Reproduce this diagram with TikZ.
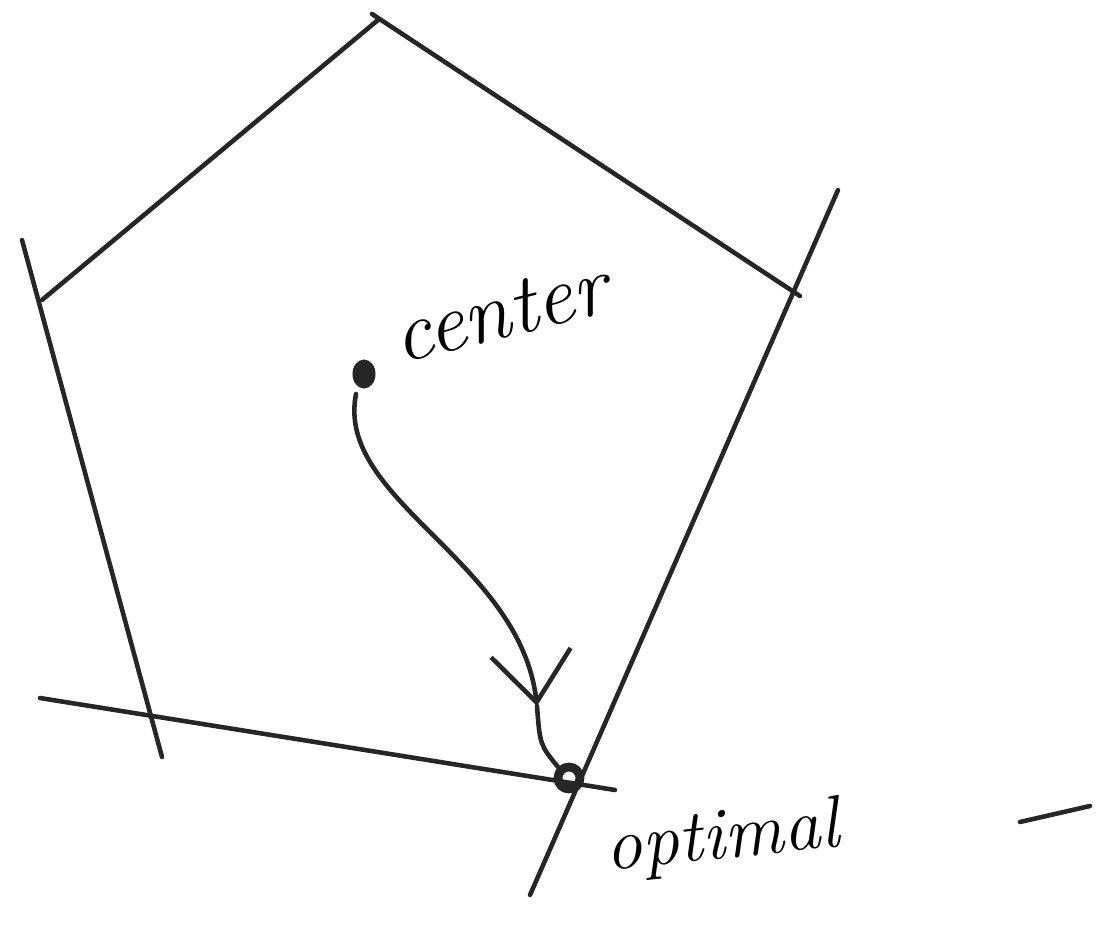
\documentclass[tikz,border=0pt]{standalone}
\usepackage{tikz}
\usetikzlibrary{arrows.meta,shapes.geometric}

\begin{document}
\begin{tikzpicture}[x=0.01cm,y=-0.01cm,line width=1.3pt,line cap=round,
  sketch/.style={draw=black!85},
  dotnode/.style={ellipse,fill=black!85,inner sep=0pt,minimum width=0.23cm,minimum height=0.29cm},
  ringnode/.style={circle,draw=black!85,line width=2.5pt,inner sep=0pt,minimum size=0.22cm}]
\useasboundingbox (0,0) rectangle (1108,930);
% 오각형 경계(손그림)
\draw[sketch] (42,300) -- (378,20);
\draw[sketch] (372,14) -- (800,296);
\draw[sketch] (838,190) -- (530,895);
\draw[sketch] (22,240) -- (162,757);
\draw[sketch] (40,698) -- (615,790);
% 점
\node[dotnode] (ctr) at (364,374) {};
\node[ringnode] (opt) at (569,778) {};
\node[rotate=14] (ctrlbl) at (500,312) {\fontsize{24}{28}\selectfont\itshape center};
\node[rotate=6] (optlbl) at (722,840) {\fontsize{21}{25}\selectfont\itshape optimal};
% 경로
\coordinate (mid) at (537,706);
\draw[sketch,-{Straight Barb[length=5mm,width=8mm]}] (356,394) .. controls (335,500) and (520,560) .. (mid);
\draw[sketch] (mid) .. controls (540,745) .. (opt.north west);
\draw[sketch] (1020,822) -- (1090,806);
\end{tikzpicture}
\end{document}
